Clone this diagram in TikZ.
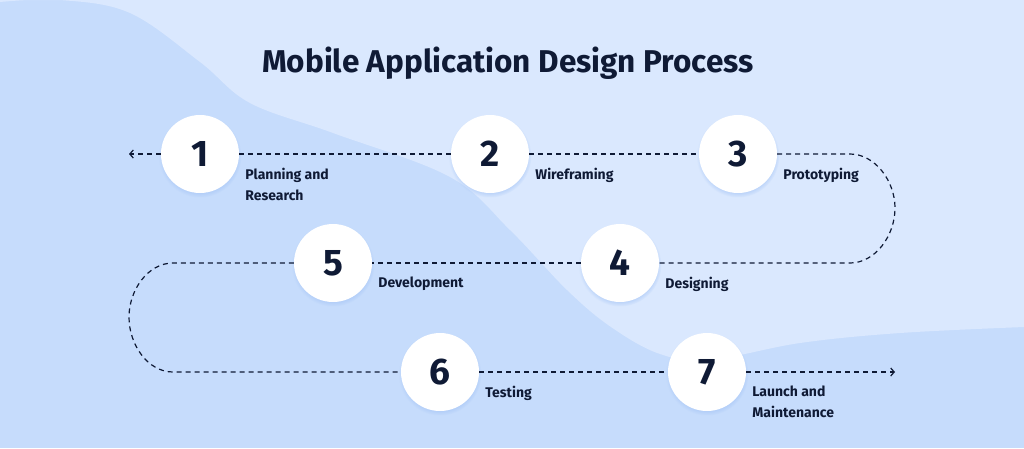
\documentclass[tikz,border=0pt]{standalone}
\usepackage{fontspec}
\setmainfont{Fira Sans}
\usetikzlibrary{calc,arrows.meta,shadows,positioning}
\definecolor{navy}{HTML}{0F1A35}
\definecolor{bgdark}{HTML}{C6DCFC}
\definecolor{bglight}{HTML}{DAE8FE}
\definecolor{glow}{HTML}{A4C4F6}
\tikzset{
  stepnum/.style={circle, fill=white, minimum size=78pt, inner sep=0pt,
    font=\fontsize{37}{37}\selectfont\bfseries, text=navy,
    circular drop shadow={shadow xshift=0pt, shadow yshift=-2pt, shadow scale=1.06, fill=glow, opacity=.7}},
  steptext/.style={anchor=north west, inner sep=0pt, align=left,
    font=\fontsize{14}{21}\selectfont\bfseries, text=navy},
  flow/.style={navy, line width=1.2pt, dash pattern=on 5pt off 4pt},
  tip/.style={-{Straight Barb[length=3.5pt,width=8pt]}}
}

\begin{document}
\begin{tikzpicture}[x=1pt,y=-1pt]
        \useasboundingbox (0,0) rectangle (1024,448);
        % background wave
        \fill[bgdark] (0,0) rectangle (1024,448);
        \fill[bglight] (0,0) -- plot[smooth, tension=.6] coordinates {(0,2) (60,0) (130,13) (200,62)
          (250,103) (333,133) (450,177) (510,230) (567,290) (611,327) (660,354) (710,360)
          (800,343) (900,333) (1024,327)} -- (1024,0) -- cycle;
        \node[font=\fontsize{31.5}{31.5}\selectfont\bfseries, text=navy] (title) at (508,63) {Mobile Application Design Process};
        % steps
        \foreach \n/\x/\y in {1/200/154, 2/490/154, 3/738/154, 4/620/263, 5/333/263, 6/440/372, 7/707/372} {
          \node[stepnum] (n\n) at (\x,\y) {\n};
        }
        \foreach \n/\t in {1/{Planning and\\Research}, 2/Wireframing, 3/Prototyping, 4/Designing,
          5/Development, 6/Testing, 7/{Launch and\\Maintenance}} {
          \node[steptext] (t\n) at ([shift={(6,14)}]n\n.east) {\t};
        }
        % dashed flow
        \coordinate (tipL) at (129,154);
        \coordinate (tipR) at (895,372);
        \draw[flow, tip] (n1) -- (tipL);
        \draw[flow] (n1) -- (n2);
        \draw[flow] (n2) -- (n3);
        \draw[flow] (n3) -- (850,154) .. controls (875,154) and (895,181) .. (895,208)
          .. controls (895,236) and (875,263) .. (850,263) -- (n4);
        \draw[flow] (n4) -- (n5);
        \draw[flow] (n5) -- (173,263) .. controls (148,263) and (129,290) .. (129,317)
          .. controls (129,345) and (148,372) .. (173,372) -- (n6);
        \draw[flow] (n6) -- (n7);
        \draw[flow, tip] (n7) -- (tipR);
      \end{tikzpicture}
\end{document}
